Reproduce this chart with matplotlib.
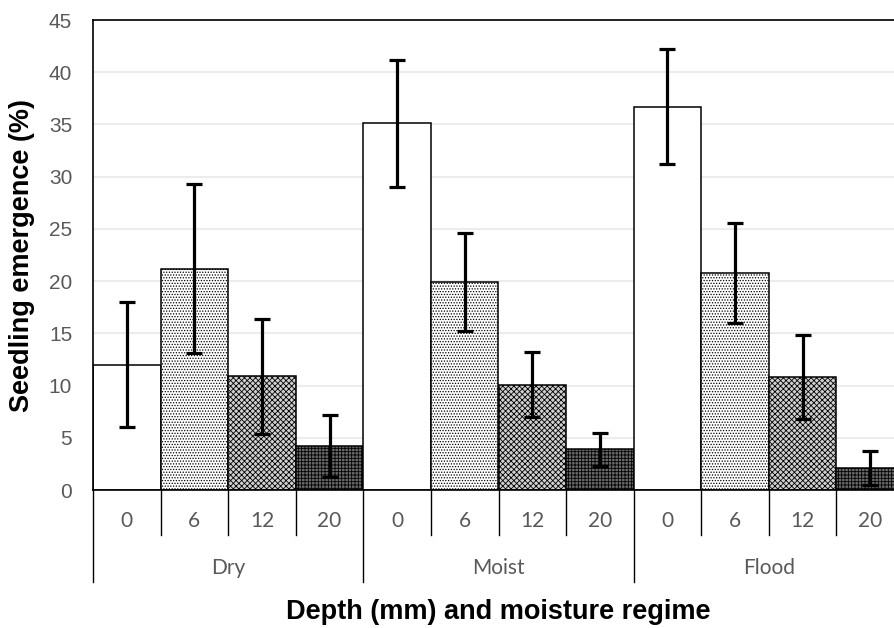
import numpy as np
import matplotlib.pyplot as plt
from matplotlib import transforms

# seedling emergence (%) by burial depth and moisture regime
regimes = ["Dry", "Moist", "Flood"]
depths = ["0", "6", "12", "20"]
means = [12.0, 21.2, 10.9, 4.2,
         35.1, 19.9, 10.1, 3.9,
         36.7, 20.8, 10.8, 2.1]
errors = [6.0, 8.1, 5.5, 3.0,
          6.1, 4.7, 3.1, 1.6,
          5.5, 4.8, 4.0, 1.6]

fills = ["white", "white", "#d0d0d0", "#6a6a6a"]
hatches = [None, "......", "xxxxxx", "+++++"]

plt.rcParams["hatch.linewidth"] = 0.6

fig = plt.figure(figsize=(8.94, 6.28), dpi=100)
ax = fig.add_axes([93 / 894, 138 / 628, 811 / 894, 470 / 628])

n_dep = len(depths)
x = np.arange(len(means))
for i, (xi, m) in enumerate(zip(x, means)):
    k = i % n_dep
    ax.bar(xi, m, width=1.0, color=fills[k], edgecolor="black",
           linewidth=1.1, hatch=hatches[k], zorder=2)
ax.errorbar(x, means, yerr=errors, fmt="none", ecolor="black",
            elinewidth=2.3, capsize=6, capthick=2.3, zorder=3)

ax.set_xlim(-0.5, len(means) - 0.5)
ax.set_ylim(0, 45)
ax.set_yticks(np.arange(0, 46, 5))
ax.tick_params(axis="y", length=0, pad=15, labelsize=15, labelcolor="#595959")
ax.tick_params(axis="x", length=0, labelbottom=False)
for lab in ax.get_yticklabels():
    lab.set_fontfamily("Liberation Sans")
ax.yaxis.grid(True, color="#ececec", linewidth=1.5)
ax.set_axisbelow(True)

for s in ["left", "top", "bottom"]:
    ax.spines[s].set_color("black")
    ax.spines[s].set_linewidth(1.2)
ax.spines["right"].set_visible(False)

# two-level category axis below the plot
trans = transforms.blended_transform_factory(ax.transData, ax.transAxes)
for b in np.arange(len(means) + 1) - 0.5:
    is_group = (b + 0.5) % n_dep == 0
    low = -0.196 if is_group else -0.096
    ax.plot([b, b], [0, low], transform=trans, color="black",
            linewidth=1.0, clip_on=False)
for xi, i in zip(x, range(len(means))):
    ax.text(xi, -0.066, depths[i % n_dep], transform=trans, ha="center",
            va="center", fontsize=15, color="#595959", family="Lato")
for g, name in enumerate(regimes):
    ax.text(g * n_dep + (n_dep - 1) / 2, -0.166, name, transform=trans,
            ha="center", va="center", fontsize=15, color="#595959",
            family="Lato")

ax.text(0.5, -0.26, "Depth (mm) and moisture regime", transform=ax.transAxes,
        ha="center", va="center", fontsize=19.5, fontweight="bold",
        family="Liberation Sans")
ax.set_ylabel("Seedling emergence (%)", fontsize=19.5, fontweight="bold",
              family="Liberation Sans", labelpad=10)

plt.savefig("out.png", dpi=100)
plt.close(fig)
